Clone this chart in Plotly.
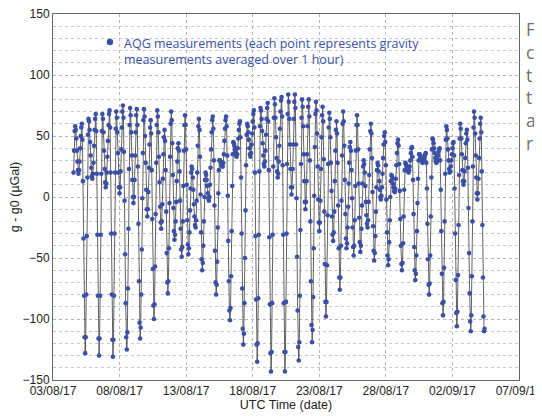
import pandas as pd
import plotly.graph_objects as go

# Hourly AQG gravity residuals (µGal)
part1 = [20, 38, 54, 58,
         55, 48, 38, 29, 22, 19, 22, 29, 40, 50, 57, 60,
         47, 13, -34, -81, -115, -128, -115, -80, -32, 16, 51, 64,
         62, 55, 45, 34, 24, 17, 15, 19, 28, 42, 55, 64, 68,
         54, 19, -31, -81, -116, -130, -116, -81, -31, 19, 54, 68,
         64, 53, 38, 23, 12, 8, 11, 20, 33, 46, 59, 68, 71,
         57, 20, -30, -80, -117, -131, -117, -81, -30, 20, 56, 70,
         65, 53, 36, 20, 8, 3, 8, 21, 39, 57, 70, 75,
         65, 37, -3, -47, -87, -115, -125, -111, -75, -26, 23, 59, 73,
         67, 53, 34, 14, 0, -5, 0, 14, 34, 53, 67, 72,
         59, 25, -22, -69, -103, -116, -107, -80, -43, -1, 36, 63, 72]
part2 = [66, 50, 28, 6, -10, -16, -10, 4, 24, 43, 57, 63,
         52, 22, -18, -59, -89, -100, -88, -57, -14, 28, 59, 71,
         66, 53, 33, 12, -8, -21, -26, -20, -6, 15, 35, 49, 55,
         46, 22, -12, -46, -70, -79, -69, -42, -5, 33, 60, 70,
         63, 44, 18, -9, -28, -35, -31, -20, -4, 13, 29, 40, 44,
         38, 21, -3, -26, -43, -49, -41, -20, 9, 38, 59, 67,
         59, 39, 10, -19, -39, -47, -42, -29, -11, 7, 20, 25,
         23, 16, 6, -6, -16, -23, -25, -19, -3, 20, 42, 58, 64,
         55, 33, 2, -29, -51, -60, -54, -40, -20, 0, 14, 20,
         18, 14, 9, 3, -1, -3, 0, 10, 24, 39, 53, 63, 66]
part3 = [56, 30, -7, -44, -70, -80, -72, -53, -25, 3, 22, 30,
         30, 29, 28, 26, 25, 25, 28, 35, 46, 56, 63, 66,
         58, 34, 1, -36, -69, -93, -101, -91, -65, -28, 9, 35, 45,
         44, 42, 39, 36, 34, 33, 35, 40, 48, 55, 60, 62,
         49, 16, -30, -75, -108, -121, -112, -87, -50, -11, 26, 51, 60,
         58, 53, 47, 40, 35, 33, 36, 43, 52, 62, 68, 71,
         57, 20, -32, -84, -121, -135, -120, -83, -31, 21, 58, 73,
         71, 64, 54, 44, 34, 27, 25, 29, 38, 51, 64, 73, 77,
         62, 22, -33, -88, -128, -143, -127, -87, -31, 25, 65, 81,
         76, 65, 49, 32, 21, 16, 19, 29, 42, 56, 70, 79, 82]
part4 = [66, 26, -31, -87, -127, -143, -127, -86, -30, 27, 68, 84,
         78, 64, 43, 23, 8, 2, 8, 23, 43, 64, 78, 84,
         73, 43, -1, -49, -93, -123, -134, -119, -81, -27, 27, 65, 80,
         74, 58, 35, 13, -4, -10, -4, 13, 35, 58, 74, 80,
         66, 30, -20, -69, -105, -119, -109, -82, -42, 1, 41, 68, 78,
         71, 52, 25, -2, -21, -28, -21, -3, 23, 49, 67, 74,
         62, 31, -12, -55, -86, -98, -86, -56, -15, 27, 57, 69,
         64, 49, 28, 5, -16, -31, -36, -29, -12, 13, 38, 55, 62,
         52, 28, -7, -42, -66, -76, -66, -40, -3, 34, 60, 70,
         62, 42, 14, -14, -34, -42, -38, -25, -8, 11, 28, 41, 45]
part5 = [38, 22, -1, -25, -41, -48, -40, -19, 9, 38, 59, 67,
         59, 39, 11, -17, -37, -45, -40, -26, -7, 11, 25, 30,
         27, 20, 9, -4, -15, -22, -25, -19, -4, 18, 39, 54, 60,
         52, 32, 4, -24, -44, -52, -46, -32, -12, 8, 22, 28,
         26, 21, 13, 6, 0, -2, 1, 8, 19, 32, 43, 50, 53,
         45, 26, -2, -29, -48, -56, -51, -37, -19, 0, 13, 18,
         17, 15, 11, 8, 5, 4, 7, 15, 26, 36, 44, 47,
         42, 27, 5, -18, -40, -55, -60, -54, -38, -16, 6, 22, 28,
         27, 26, 24, 22, 21, 20, 22, 25, 30, 36, 40, 41,
         33, 14, -14, -41, -60, -68, -63, -48, -28, -5, 15, 30, 35]
part6 = [35, 33, 32, 30, 29, 28, 29, 30, 32, 34, 35, 36,
         28, 7, -22, -51, -72, -80, -71, -48, -16, 16, 39, 48,
         47, 44, 40, 36, 32, 29, 28, 29, 31, 34, 37, 39, 40,
         30, 6, -28, -63, -87, -97, -86, -58, -20, 19, 47, 58,
         55, 48, 39, 30, 23, 20, 21, 25, 30, 35, 40, 44, 45,
         34, 7, -30, -68, -95, -106, -94, -64, -23, 18, 48, 60,
         56, 48, 35, 22, 13, 10, 13, 21, 32, 44, 52, 55,
         47, 24, -9, -46, -79, -102, -110, -97, -65, -20, 25, 57, 70,
         65, 52, 34, 16, 3, -2, 3, 15, 32, 48, 60, 65,
         53, 21, -23, -66, -98, -110, -108]

start_time = "2017-08-04 13:00"
legend_text = "AQG measurements (each point represents gravity<br>measurements averaged over 1 hour)"
side_letters = ["F", "c", "t", "t", "a", "r"]

values = part1 + part2 + part3 + part4 + part5 + part6
times = pd.date_range(start_time, periods=len(values), freq="h")

BLUE = "#3a4fa5"

fig = go.Figure()
fig.add_trace(go.Scatter(
    x=times, y=values, mode="lines+markers",
    line=dict(color="#3a3a3a", width=0.8),
    marker=dict(color=BLUE, size=4.6),
    showlegend=False, hoverinfo="skip"))

# page is 542x416; the browser body adds an 8px margin around the figure
OFF = 8
PAGE_W, PAGE_H = 542, 416
W, H = PAGE_W - OFF, PAGE_H - OFF
PL, PR, PT, PB = 53, 519, 14, 380          # plot box in page pixels
L, T = PL - OFF, PT - OFF
R, B = PAGE_W - PR, PAGE_H - PB
pw, ph = PR - PL, PB - PT

def px(x):
    return (x - PL) / pw

def py(y):
    return (PB - y) / ph

grid = dict(showgrid=True, gridcolor="#b5b5b5", griddash="dot", gridwidth=1)

fig.update_layout(
    width=W, height=H,
    margin=dict(l=L, r=R, t=T, b=B),
    paper_bgcolor="white", plot_bgcolor="white",
    font=dict(family="Liberation Sans, Arial", size=12, color="#222"),
    xaxis=dict(type="date", range=["2017-08-03", "2017-09-07"],
               tick0="2017-08-03", dtick=5 * 86400000, tickformat="%d/%m/%y",
               showline=True, mirror=True, linecolor="#666", linewidth=1,
               ticks="", zeroline=False, automargin=False,
               ticklabeloverflow="allow",
               title=dict(text="UTC Time (date)", standoff=0,
                          font=dict(size=12.5, color="#222")),
               tickfont=dict(size=12, color="#222"), **grid),
    yaxis=dict(range=[-150, 150], dtick=50, tick0=0,
               showline=True, mirror=True, linecolor="#666", linewidth=1,
               ticks="", zeroline=False, automargin=False,
               ticklabeloverflow="allow",
               minor=dict(dtick=10, showgrid=True, gridcolor="#c8c8c8", griddash="dot"),
               title=dict(text="g - g0 (µGal)", standoff=14,
                          font=dict(size=12.5, color="#222")),
               tickfont=dict(size=12, color="#222"), **grid),
)

# legend-like annotation
fig.add_shape(type="circle", xref="paper", yref="paper",
              x0=px(106.8), x1=px(113.2), y0=py(45.2), y1=py(38.8),
              fillcolor=BLUE, line=dict(width=0))
fig.add_annotation(xref="paper", yref="paper", x=px(121.5), y=py(32.5),
                   xanchor="left", yanchor="top", align="left", showarrow=False,
                   text=legend_text,
                   font=dict(family="Open Sans", size=12.5, color=BLUE))

# cut-off text on the right side of the page (one block of lines)
fig.add_annotation(xref="paper", yref="paper", x=px(524), y=py(15),
                   xanchor="left", yanchor="top", align="left", showarrow=False,
                   text="<br>".join(side_letters),
                   font=dict(family="Open Sans", size=17.5, color="#707070"))

fig.write_html("out.html")
